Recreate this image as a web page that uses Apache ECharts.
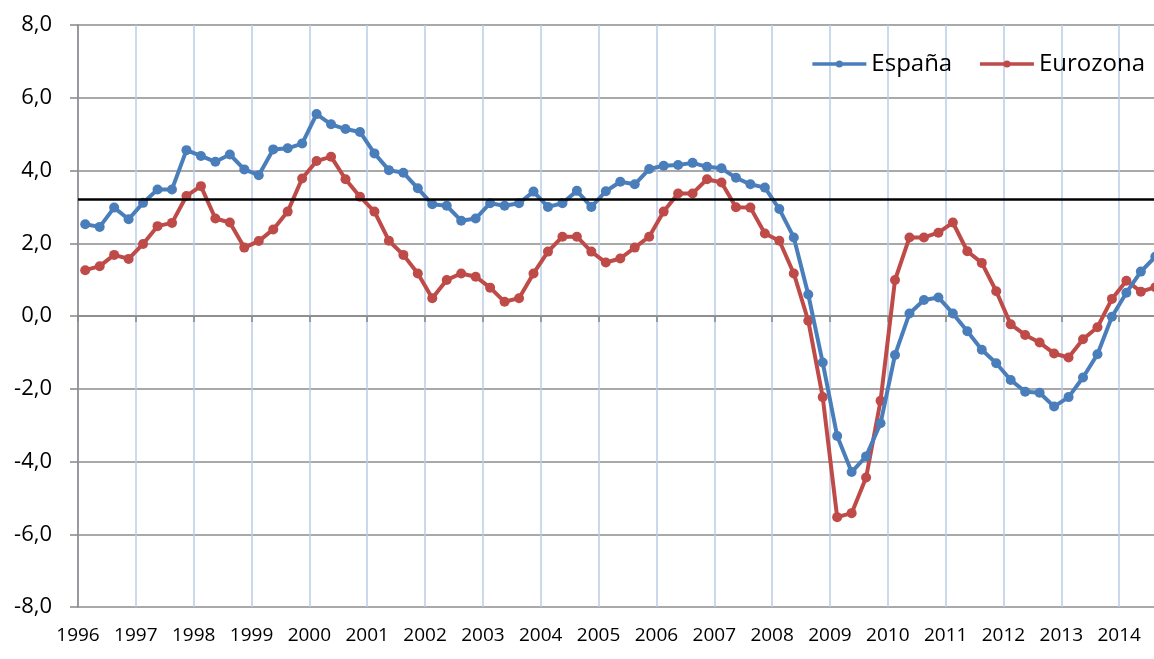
<!DOCTYPE html>
<html>
<head>
<meta charset="utf-8">
<script src="https://cdn.jsdelivr.net/npm/echarts@6/dist/echarts.min.js"></script>
<style>
html,body{margin:0;padding:0;background:#fff;}
#chart{width:1154px;height:659px;}
</style>
</head>
<body>
<div id="chart"></div>
<script>
// Quarterly data, 1996 Q1 – 2014 Q3
const firstYear = 1996;
const quarters = [
  '1996T1','1996T2','1996T3','1996T4','1997T1','1997T2','1997T3','1997T4',
  '1998T1','1998T2','1998T3','1998T4','1999T1','1999T2','1999T3','1999T4',
  '2000T1','2000T2','2000T3','2000T4','2001T1','2001T2','2001T3','2001T4',
  '2002T1','2002T2','2002T3','2002T4','2003T1','2003T2','2003T3','2003T4',
  '2004T1','2004T2','2004T3','2004T4','2005T1','2005T2','2005T3','2005T4',
  '2006T1','2006T2','2006T3','2006T4','2007T1','2007T2','2007T3','2007T4',
  '2008T1','2008T2','2008T3','2008T4','2009T1','2009T2','2009T3','2009T4',
  '2010T1','2010T2','2010T3','2010T4','2011T1','2011T2','2011T3','2011T4',
  '2012T1','2012T2','2012T3','2012T4','2013T1','2013T2','2013T3','2013T4',
  '2014T1','2014T2','2014T3'
];
const espana = [
  2.52,2.45,2.98,2.66, 3.11,3.48,3.48,4.56, 4.40,4.24,4.44,4.03, 3.87,4.58,4.61,4.74,
  5.55,5.27,5.14,5.06, 4.47,4.01,3.94,3.51, 3.07,3.03,2.62,2.68, 3.10,3.03,3.10,3.42,
  3.00,3.10,3.44,3.00, 3.43,3.69,3.62,4.04, 4.13,4.15,4.21,4.10, 4.06,3.80,3.62,3.53,
  2.94,2.16,0.59,-1.28, -3.30,-4.29,-3.86,-2.95, -1.07,0.07,0.44,0.51, 0.07,-0.42,-0.93,-1.30,
  -1.76,-2.08,-2.11,-2.49, -2.23,-1.69,-1.05,-0.02, 0.64,1.22,1.63
];
const eurozona = [
  1.26,1.37,1.68,1.57, 1.98,2.47,2.56,3.30, 3.57,2.68,2.57,1.88, 2.06,2.38,2.87,3.78,
  4.26,4.38,3.76,3.28, 2.87,2.07,1.68,1.17, 0.49,0.99,1.17,1.08, 0.78,0.39,0.49,1.17,
  1.77,2.18,2.18,1.77, 1.47,1.58,1.88,2.18, 2.87,3.37,3.37,3.76, 3.67,2.99,2.98,2.27,
  2.07,1.17,-0.13,-2.23, -5.53,-5.42,-4.44,-2.33, 0.99,2.16,2.16,2.29, 2.57,1.78,1.46,0.68,
  -0.23,-0.52,-0.73,-1.03, -1.14,-0.64,-0.31,0.47, 0.97,0.67,0.79
];
const referenceLevel = 3.2;
const yTicks = [-8,-6,-4,-2,0,2,4,6,8];

// position each quarter at the middle of its quarter on a year axis
function qx(label) {
  const y = parseInt(label.slice(0,4),10);
  const q = parseInt(label.slice(5),10);
  return y + (q - 0.5) / 4;
}
const espData = quarters.map((q,i) => [qx(q), espana[i]]);
const euroData = quarters.map((q,i) => [qx(q), eurozona[i]]);

const FONT = '"Open Sans", "Liberation Sans", sans-serif';
const BLUE = '#4a7ebb';
const RED = '#be4b48';

const chart = echarts.init(document.getElementById('chart'), null, {renderer:'canvas'});
chart.setOption({
  animation: false,
  backgroundColor: '#ffffff',
  grid: { left: 78, top: 25, width: 1099, bottom: 52, containLabel: false, outerBoundsMode: 'none' },
  legend: {
    right: 4, top: 47,
    itemWidth: 54, itemHeight: 9, itemGap: 26,
    lineStyle: { width: 3.5 },
    textStyle: { fontFamily: FONT, fontSize: 24, color: '#000' },
    data: ['España','Eurozona']
  },
  xAxis: {
    type: 'value',
    min: firstYear, max: 2015, interval: 1,
    axisLine: { show: true, lineStyle: { color: '#868686', width: 1.5 } },
    axisTick: { show: true, length: 6, lineStyle: { color: '#868686', width: 1.5 } },
    axisLabel: {
      fontFamily: FONT, fontSize: 19, color: '#000', margin: 19,
      formatter: v => String(Math.round(v))
    },
    splitLine: { show: true, lineStyle: { color: '#b9cde5', width: 1.5 } }
  },
  yAxis: {
    type: 'value',
    min: yTicks[0], max: yTicks[yTicks.length-1], interval: 2,
    axisLine: { show: true, lineStyle: { color: '#868686', width: 1.5 } },
    axisTick: { show: true, inside: false, length: 8, lineStyle: { color: '#868686', width: 1.5 } },
    axisLabel: {
      fontFamily: FONT, fontSize: 22, color: '#000', margin: 26,
      formatter: v => v.toFixed(1).replace('.', ',')
    },
    splitLine: { show: true, lineStyle: { color: '#8c8c8c', width: 1.5 } }
  },
  series: [
    {
      name: 'España', type: 'line', data: espData,
      symbol: 'circle', symbolSize: 10, z: 3,
      lineStyle: { color: BLUE, width: 4 },
      itemStyle: { color: BLUE },
      markLine: {
        silent: true, symbol: ['none','none'], label: { show: false },
        lineStyle: { color: '#000', width: 2.5, type: 'solid' },
        data: [{ yAxis: referenceLevel }]
      }
    },
    {
      name: 'Eurozona', type: 'line', data: euroData,
      symbol: 'circle', symbolSize: 10, z: 2,
      lineStyle: { color: RED, width: 4 },
      itemStyle: { color: RED }
    }
  ]
});
</script>
</body>
</html>
